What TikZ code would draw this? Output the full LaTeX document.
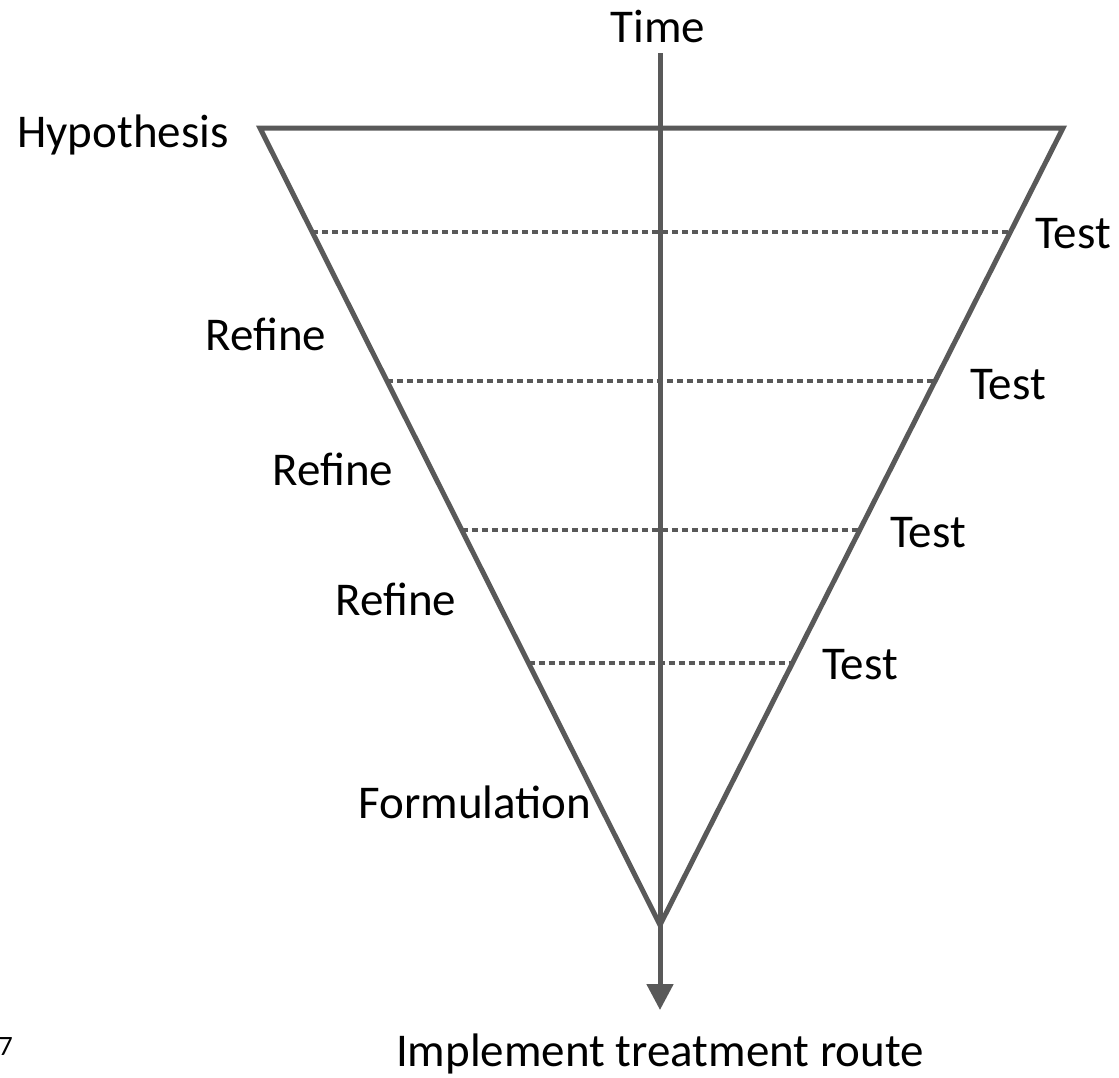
\documentclass[tikz,border=0pt]{standalone}
\usepackage{fontspec}
\setmainfont{Carlito}
\usetikzlibrary{arrows.meta,calc}
\definecolor{lg}{HTML}{595959}
\tikzset{
  lbl/.style={font=\fontsize{47}{52}\selectfont, text=black, inner sep=0pt, anchor=base},
  edge/.style={draw=lg, line width=5pt, line join=miter},
  lvl/.style={draw=lg, line width=4pt, dash pattern=on 6pt off 4pt},
}
\begin{document}
\begin{tikzpicture}[x=1pt,y=-1pt]
\useasboundingbox (0,0) rectangle (1119,1077);
% triangle corners
\coordinate (tl) at (260,128);
\coordinate (tr) at (1063,128);
\coordinate (ap) at (660,925);
\coordinate (ts) at (660,53);
\coordinate (te) at (660,1010);
\draw[edge] (tl) -- (tr) -- (ap) -- cycle;
% level lines
\foreach \y/\n in {232/a,381/b,530/c,663/d}{
  \coordinate (l\n) at ($(tl)!{(\y-128)/797}!(ap)$);
  \coordinate (r\n) at ($(tr)!{(\y-128)/797}!(ap)$);
}
\draw[lvl] (la) -- (ra);
\draw[lvl] (lb) -- (rb);
\draw[lvl] (lc) -- (rc);
\draw[lvl] (ld) -- (rd);
% time arrow
\draw[draw=lg, line width=5pt, -{Triangle[width=26pt,length=26pt]}, color=lg] (ts) -- (te);
% labels
\node[lbl] (time) at (658,42) {Time};
\node[lbl] (hyp) at (123,147) {Hypothesis};
\node[lbl, anchor=base west] (t1) at (1035,248) {Test};
\node[lbl, anchor=base west] (t2) at (970,399) {Test};
\node[lbl, anchor=base west] (t3) at (890,547) {Test};
\node[lbl, anchor=base west] (t4) at (822,679) {Test};
\node[lbl] (r1) at (266,350) {Refine};
\node[lbl] (r2) at (333,485) {Refine};
\node[lbl] (r3) at (396,615) {Refine};
\node[lbl] (form) at (475,818) {Formulation};
\node[lbl] (impl) at (660,1066) {Implement treatment route};
\node[font=\fontsize{28}{32}\selectfont, inner sep=0pt, anchor=base east] (seven) at (13,1055) {7};
\end{tikzpicture}
\end{document}
